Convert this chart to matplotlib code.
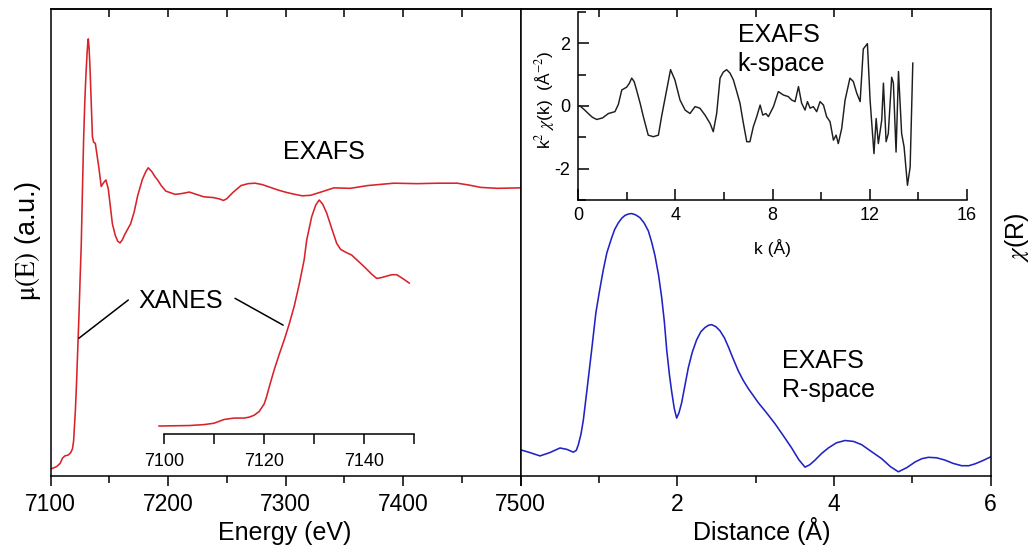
import matplotlib
matplotlib.use('Agg')
import matplotlib.pyplot as plt
from matplotlib.ticker import NullFormatter

plt.rcParams['font.family'] = ['Liberation Sans', 'DejaVu Sans']
plt.rcParams['mathtext.fontset'] = 'stix'
plt.rcParams['axes.unicode_minus'] = False

# ---------------- data ----------------
energy_ev = [7100, 7105, 7108, 7110, 7112, 7115, 7117, 7118.5, 7119.5, 7120, 7121, 7122,
             7123, 7124, 7125, 7126, 7127, 7128, 7129, 7130, 7131, 7131.5, 7132, 7132.7,
             7133.5, 7134.5, 7135.5, 7136.5, 7138, 7141, 7143, 7145, 7147, 7149, 7152.5,
             7155, 7157, 7159, 7161, 7163, 7168, 7171, 7174, 7178, 7181, 7183, 7186, 7189,
             7191, 7194, 7198, 7206, 7212, 7218, 7224, 7230, 7239, 7244, 7247, 7250, 7255,
             7262, 7268, 7274, 7280, 7287, 7294, 7301, 7308, 7314, 7321, 7330, 7341, 7355,
             7370, 7392, 7412, 7430, 7446, 7456, 7466, 7480, 7500]
mu_exafs = [0.015, 0.020, 0.027, 0.038, 0.043, 0.045, 0.050, 0.058, 0.075, 0.097, 0.140, 0.200,
            0.270, 0.340, 0.420, 0.495, 0.610, 0.720, 0.800, 0.860, 0.907, 0.925, 0.936, 0.915,
            0.870, 0.800, 0.727, 0.715, 0.712, 0.660, 0.620, 0.628, 0.634, 0.615, 0.540,
            0.515, 0.503, 0.499, 0.506, 0.517, 0.540, 0.565, 0.600, 0.635, 0.652, 0.660, 0.652,
            0.640, 0.634, 0.622, 0.610, 0.603, 0.605, 0.608, 0.603, 0.598, 0.596, 0.593, 0.590,
            0.594, 0.607, 0.622, 0.626, 0.627, 0.624, 0.618, 0.612, 0.607, 0.603, 0.600, 0.601,
            0.608, 0.617, 0.616, 0.622, 0.627, 0.626, 0.627, 0.627, 0.623, 0.618, 0.616, 0.617]

xanes_energy = [7099, 7105, 7108, 7110, 7111, 7112, 7114, 7116, 7117, 7118, 7119, 7120,
                7120.5, 7121, 7122, 7123, 7124, 7125, 7126, 7127, 7128, 7128.5, 7129.5, 7130.3,
                7131, 7131.7, 7132.5, 7133.5, 7134.5, 7135.3, 7136.5, 7137.5, 7138.8, 7140,
                7141.5, 7142.5, 7143.5, 7144.5, 7145.5, 7146.5, 7147.8, 7149]
mu_xanes = [0.107, 0.108, 0.110, 0.113, 0.117, 0.121, 0.124, 0.124, 0.126, 0.130, 0.138, 0.154,
            0.170, 0.190, 0.227, 0.260, 0.291, 0.325, 0.363, 0.410, 0.463, 0.505, 0.555, 0.580,
            0.591, 0.582, 0.563, 0.530, 0.498, 0.485, 0.478, 0.473, 0.460, 0.448,
            0.432, 0.423, 0.425, 0.428, 0.431, 0.431, 0.422, 0.413]

k_values = [0.07, 0.25, 0.41, 0.58, 0.76, 1.0, 1.24, 1.51, 1.65, 1.79, 1.99, 2.10, 2.20, 2.30,
            2.40, 2.55, 2.68, 2.88, 3.09, 3.30, 3.43, 3.55, 3.64, 3.80, 3.98, 4.19, 4.40, 4.60,
            4.81, 5.01, 5.22, 5.43, 5.56, 5.70, 5.84, 5.97, 6.11, 6.25, 6.39, 6.52, 6.66, 6.80,
            6.94, 7.07, 7.21, 7.35, 7.49, 7.60, 7.73, 7.83, 8.04, 8.24, 8.45, 8.65,
            8.79, 8.93, 9.07, 9.20, 9.34, 9.44, 9.55, 9.68, 9.82, 9.96, 10.10, 10.23, 10.37,
            10.51, 10.62, 10.71, 10.85, 10.99, 11.19, 11.33, 11.47, 11.61, 11.74, 11.91, 12.02,
            12.18, 12.27, 12.36, 12.50, 12.57, 12.68, 12.77, 12.91, 12.98, 13.09, 13.19, 13.32,
            13.42, 13.56, 13.67, 13.78]
k2chi = [0.00, -0.12, -0.24, -0.36, -0.43, -0.38, -0.24, -0.18, 0.05, 0.51, 0.60, 0.72, 0.89,
         0.78, 0.51, 0.08, -0.34, -0.93, -0.98, -0.93, -0.34, 0.15, 0.51, 1.16, 0.83, 0.19,
         -0.13, -0.24, -0.02, -0.07, -0.29, -0.56, -0.82, -0.24, 0.89, 1.08, 1.16, 1.05,
         0.83, 0.48, 0.09, -0.55, -1.14, -1.14, -0.66, -0.34, 0.03, -0.29, -0.24, -0.34, -0.02,
         0.46, 0.35, 0.30, 0.19, 0.14, 0.62, 0.09, -0.13, 0.14, -0.07, -0.02, -0.18, 0.14, 0.03,
         -0.34, -0.50, -1.09, -0.93, -1.20, -0.72, 0.19, 0.89, 0.78, 0.41, 0.14, 1.82, 1.99,
         0.19, -1.52, -0.40, -1.20, -0.45, 0.73, -1.14, -0.88, 0.92, 0.73, -1.47, 1.10, -0.88,
         -1.30, -2.53, -1.95, 1.37]

r_dist = [0.0, 0.12, 0.246, 0.37, 0.502, 0.59, 0.672, 0.71, 0.736, 0.77, 0.80, 0.85, 0.906,
          0.96, 1.01, 1.055, 1.10, 1.161, 1.20, 1.246, 1.29, 1.331, 1.375, 1.417, 1.47, 1.523,
          1.575, 1.629, 1.67, 1.714, 1.76, 1.80, 1.834, 1.864, 1.90, 1.928, 1.96, 1.991, 2.02,
          2.055, 2.10, 2.14, 2.19, 2.247, 2.30, 2.353, 2.40, 2.438, 2.49, 2.544, 2.60, 2.65,
          2.71, 2.778, 2.84, 2.906, 2.97, 3.033, 3.14, 3.246, 3.35, 3.459, 3.55, 3.629, 3.69,
          3.757, 3.84, 3.927, 4.03, 4.14, 4.25, 4.353, 4.48, 4.609, 4.72, 4.821, 4.93, 5.034,
          5.12, 5.204, 5.31, 5.417, 5.52, 5.63, 5.72, 5.80, 5.90, 6.0]
chi_r = [0.056, 0.050, 0.043, 0.050, 0.060, 0.057, 0.051, 0.055, 0.067, 0.090, 0.120, 0.190,
         0.270, 0.350, 0.400, 0.442, 0.478, 0.510, 0.528, 0.542, 0.552, 0.558, 0.561, 0.562,
         0.559, 0.553, 0.542, 0.525, 0.502, 0.472, 0.430, 0.382, 0.330, 0.270, 0.215, 0.180,
         0.145, 0.124, 0.135, 0.157, 0.197, 0.232, 0.265, 0.292, 0.309, 0.318, 0.323, 0.324,
         0.320, 0.311, 0.296, 0.277, 0.252, 0.225, 0.205, 0.187, 0.172, 0.157, 0.135, 0.112,
         0.087, 0.060, 0.035, 0.019, 0.024, 0.034, 0.048, 0.060, 0.071, 0.076, 0.074, 0.067,
         0.052, 0.037, 0.020, 0.009, 0.018, 0.030, 0.037, 0.040, 0.039, 0.034, 0.027, 0.022,
         0.022, 0.026, 0.033, 0.041]

energy_major = [7100, 7200, 7300, 7400, 7500]
energy_minor = [7150, 7250, 7350, 7450]
energy_top = [7150, 7200, 7250, 7300, 7350, 7400, 7450]
xanes_ticks = [7100, 7110, 7120, 7130, 7140, 7150]
xanes_labels = ['7100', '', '7120', '', '7140', '']
r_major = [0, 2, 4, 6]
r_labels = ['', '2', '4', '6']
r_minor = [1, 3, 5]
r_top = [1, 2, 3, 4, 5]
k_major = [0, 4, 8, 12, 16]
k_minor = [2, 6, 10, 14]
k2_major = [-2, 0, 2]
k2_minor = [-3, -1, 1, 3]

RED = '#d8232a'
BLUE = '#2222c4'
DARK = '#1e1e1e'

# ---------------- layout ----------------
W, H = 1030, 548
fig = plt.figure(figsize=(W / 100, H / 100), dpi=100)


def rect(x0, y0, x1, y1):
    return [x0 / W, 1 - y1 / H, (x1 - x0) / W, (y1 - y0) / H]


def fp(x, y):
    return x / W, 1 - y / H


SP = 1.1
# left main panel
ax1 = fig.add_axes(rect(50.7, 9, 520.7, 476))
ax1.plot(energy_ev, mu_exafs, color=RED, lw=1.15)
ax1.set_xlim(7100, 7500)
ax1.set_ylim(0, 1)
ax1.set_yticks([])
ax1.set_xticks(energy_major)
ax1.set_xticks(energy_minor, minor=True)
ax1.tick_params(axis='x', which='major', direction='out', length=7, width=1.1,
                labelsize=16.5, pad=5)
ax1.tick_params(axis='x', which='minor', direction='out', length=5, width=1.1)
for s in ax1.spines.values():
    s.set_linewidth(SP)
top1 = ax1.secondary_xaxis('top')
top1.set_xticks(energy_top)
top1.xaxis.set_major_formatter(NullFormatter())
top1.tick_params(direction='in', length=6, width=1.1)
top1.spines['top'].set_linewidth(SP)

# right main panel
ax2 = fig.add_axes(rect(520.7, 9, 990.7, 476))
ax2.plot(r_dist, chi_r, color=BLUE, lw=1.15)
ax2.set_xlim(0, 6)
ax2.set_ylim(0, 1)
ax2.set_yticks([])
ax2.set_xticks(r_major, r_labels)
ax2.set_xticks(r_minor, minor=True)
ax2.tick_params(axis='x', which='major', direction='out', length=7, width=1.1,
                labelsize=16.5, pad=5)
ax2.tick_params(axis='x', which='minor', direction='out', length=5, width=1.1)
for s in ax2.spines.values():
    s.set_linewidth(SP)
top2 = ax2.secondary_xaxis('top')
top2.set_xticks(r_top)
top2.xaxis.set_major_formatter(NullFormatter())
top2.tick_params(direction='in', length=6, width=1.1)
top2.spines['top'].set_linewidth(SP)

# XANES inset
ax3 = fig.add_axes(rect(154.0, 190, 414.3, 434))
ax3.patch.set_alpha(0)
ax3.plot(xanes_energy, mu_xanes, color=RED, lw=1.15)
ax3.set_xlim(7098, 7150)
ax3.set_ylim(0.0899, 0.6124)
for side in ['top', 'right', 'left']:
    ax3.spines[side].set_visible(False)
ax3.spines['bottom'].set_bounds(7100, 7150)
ax3.spines['bottom'].set_linewidth(SP)
ax3.set_yticks([])
ax3.set_xticks(xanes_ticks, xanes_labels)
ax3.tick_params(axis='x', direction='out', length=7.5, width=1.1, labelsize=13, pad=6)

# k-space inset
ax4 = fig.add_axes(rect(578.3, 12, 966.7, 200))
ax4.patch.set_alpha(0)
ax4.plot(k_values, k2chi, color=DARK, lw=1.05)
ax4.set_xlim(0, 16)
ax4.set_ylim(-3, 3)
for side in ['top', 'right']:
    ax4.spines[side].set_visible(False)
for side in ['left', 'bottom']:
    ax4.spines[side].set_linewidth(SP)
ax4.set_xticks(k_major)
ax4.set_xticks(k_minor, minor=True)
ax4.set_yticks(k2_major)
ax4.set_yticks(k2_minor, minor=True)
ax4.tick_params(which='major', direction='in', length=8, width=1.1, labelsize=13, pad=5)
ax4.tick_params(which='minor', direction='in', length=6, width=1.1)
ax4.tick_params(axis='y', pad=6)

# ---------------- text ----------------
fig.text(*fp(283.3, 159.3), 'EXAFS', fontsize=18, ha='left', va='baseline')
fig.text(*fp(138, 308.3), 'XANES', fontsize=18, ha='left', va='baseline')
fig.text(*fp(737.7, 41.7), 'EXAFS', fontsize=18, ha='left', va='baseline')
fig.text(*fp(737.7, 71.0), 'k-space', fontsize=18, ha='left', va='baseline')
fig.text(*fp(781.7, 367.5), 'EXAFS', fontsize=18, ha='left', va='baseline')
fig.text(*fp(781.7, 397.0), 'R-space', fontsize=18, ha='left', va='baseline')

fig.text(*fp(285, 540), 'Energy (eV)', fontsize=18, ha='center', va='baseline')
fig.text(*fp(761.7, 540), 'Distance (Å)', fontsize=18, ha='center', va='baseline')
fig.text(*fp(28, 241), r'$\mathrm{\mu(E)}$ (a.u.)', fontsize=19.5, rotation=90,
         ha='center', va='center')
fig.text(*fp(1017, 237), r'$\chi$(R)', fontsize=18, rotation=90, ha='center', va='center')
fig.text(*fp(545, 100), r'k$^2$ $\chi$(k)  (Å$^{-2}$)', fontsize=12.5, rotation=90,
         ha='center', va='center')
fig.text(*fp(772, 248.5), 'k (Å)', fontsize=12.5, ha='center', va='center')

# XANES leader lines
ax1.annotate('', xy=(7124, 0.295), xycoords='data',
             xytext=(128.3, H - 300), textcoords='figure pixels',
             arrowprops=dict(arrowstyle='-', color='black', lw=1.1, shrinkA=0, shrinkB=0))
ax3.annotate('', xy=(7123.8, 0.323), xycoords='data',
             xytext=(235, H - 298.3), textcoords='figure pixels',
             arrowprops=dict(arrowstyle='-', color='black', lw=1.1, shrinkA=0, shrinkB=0))

fig.savefig('out.png', dpi=100)
